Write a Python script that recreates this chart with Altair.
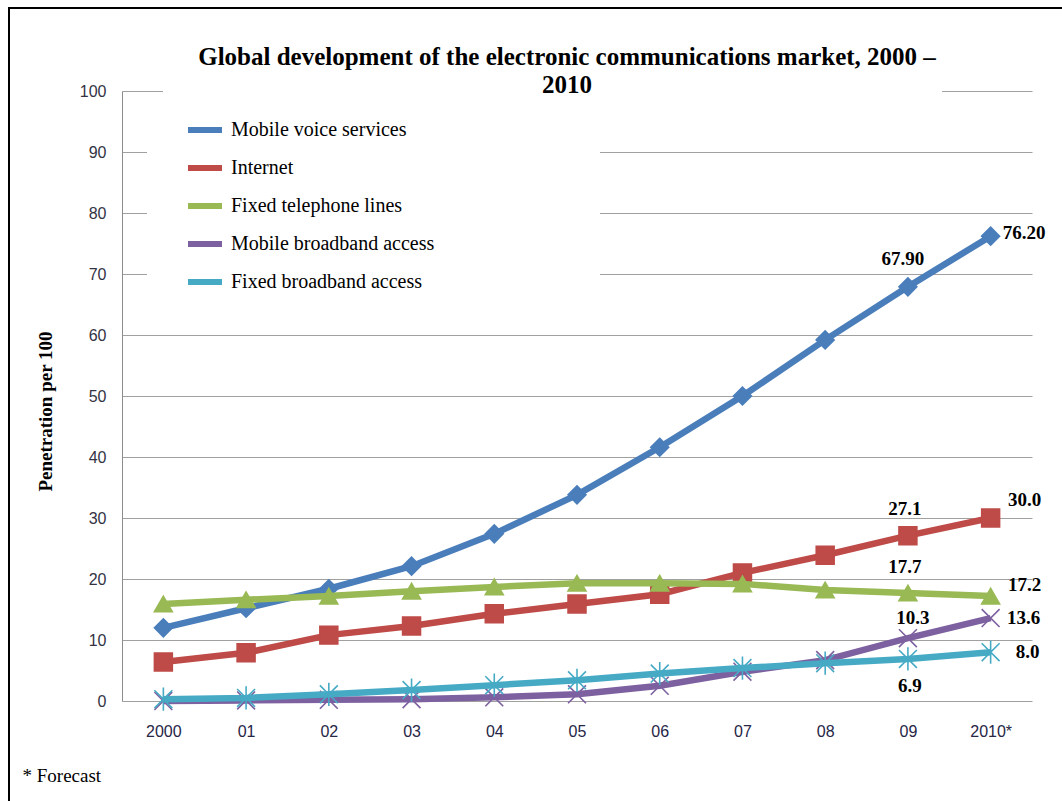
import altair as alt
import pandas as pd

# ---------------- data ----------------
years = ["2000", "01", "02", "03", "04", "05", "06", "07", "08", "09", "2010*"]
series_names = [
    "Mobile voice services",
    "Internet",
    "Fixed telephone lines",
    "Mobile broadband access",
    "Fixed broadband access",
]
mobile_voice = [12.0, 15.2, 18.4, 22.1, 27.4, 33.8, 41.6, 50.0, 59.2, 67.9, 76.2]
internet = [6.4, 7.9, 10.8, 12.3, 14.3, 15.9, 17.5, 21.0, 23.9, 27.1, 30.0]
fixed_tel = [15.9, 16.6, 17.2, 18.0, 18.7, 19.3, 19.3, 19.2, 18.2, 17.7, 17.2]
mobile_bb = [0.0, 0.1, 0.2, 0.3, 0.6, 1.1, 2.5, 4.8, 6.7, 10.3, 13.6]
fixed_bb = [0.3, 0.5, 1.1, 1.8, 2.6, 3.4, 4.5, 5.4, 6.2, 6.9, 8.0]
series_values = [mobile_voice, internet, fixed_tel, mobile_bb, fixed_bb]

label_series = [
    "Mobile voice services", "Mobile voice services",
    "Internet", "Internet",
    "Fixed telephone lines", "Fixed telephone lines",
    "Mobile broadband access", "Mobile broadband access",
    "Fixed broadband access", "Fixed broadband access",
]
label_years = ["2010*", "09", "2010*", "09", "09", "2010*", "09", "2010*", "2010*", "09"]
label_texts = ["76.20", "67.90", "30.0", "27.1", "17.7", "17.2", "10.3", "13.6", "8.0", "6.9"]

# ---------------- styles ----------------
colors = ["#4A7EBB", "#BE4B48", "#98B954", "#7D60A0", "#46AAC5"]
x_shape = "M-1,-1L1,1M-1,1L1,-1"
star_shape = "M-1,-1L1,1M-1,1L1,-1M0,-1.3L0,1.3"
shapes = ["diamond", "square", "triangle-up", x_shape, star_shape]
label_style = [  # dx, dy, align
    (12, -3, "left"), (-5, -28, "center"),
    (34, -18, "center"), (-3, -27, "center"),
    (-3, -26, "center"), (34, -11, "center"),
    (5, -20, "center"), (33, 0, "center"),
    (37, 0, "center"), (2, 27, "center"),
]

rows = []
for name, vals in zip(series_names, series_values):
    for yr, v in zip(years, vals):
        rows.append({"series": name, "year": yr, "value": v})
df = pd.DataFrame(rows)

x_enc = alt.X(
    "year:N", sort=years,
    scale=alt.Scale(type="point", padding=0.5),
    axis=alt.Axis(
        title="* Forecast", titleX=-100, titleY=80, titleAlign="left",
        titleBaseline="alphabetic", titleFont="Liberation Serif", titleFontSize=19,
        titleFontWeight="normal", titleColor="black",
        labelFont="Liberation Sans", labelFontSize=16, labelColor="#262646",
        labelPadding=22, labelAngle=0, domain=False, ticks=False, grid=False,
    ),
)
y_enc = alt.Y(
    "value:Q",
    scale=alt.Scale(domain=[0, 100], nice=False),
    axis=alt.Axis(
        values=list(range(0, 101, 10)),
        title="Penetration per 100", titleFont="Liberation Serif", titleFontSize=19,
        titleFontWeight="bold", titleColor="black", titleAngle=270,
        titleX=-77, titleY=320, titleAlign="center", titleBaseline="middle",
        labelFont="Liberation Sans", labelFontSize=16, labelColor="#333344",
        labelPadding=16, domainColor="#8c8c8c", gridColor="#a0a0a0",
        ticks=False, grid=True,
    ),
)

legend = alt.Legend(
    orient="none", legendX=63, legendY=19, title=None,
    symbolType="stroke", symbolStrokeWidth=6, symbolSize=1156,
    labelOffset=6, rowPadding=6, padding=0, symbolOpacity=1, labelLimit=500,
)
color_scale = alt.Scale(domain=series_names, range=colors)

one = pd.DataFrame({"k": [0]})
layers = []
# outer frame
layers.append(
    alt.Chart(one).mark_rect(fillOpacity=0, stroke="black", strokeWidth=2).encode(
        x=alt.value(-113), x2=alt.value(960), y=alt.value(-83), y2=alt.value(730)
    )
)
# white boxes behind title and legend (hide grid lines)
layers.append(
    alt.Chart(one).mark_rect(color="white").encode(
        x=alt.value(41), x2=alt.value(820), y=alt.value(-1), y2=alt.value(2)
    )
)
layers.append(
    alt.Chart(one).mark_rect(color="white").encode(
        x=alt.value(25), x2=alt.value(478), y=alt.value(6), y2=alt.value(209)
    )
)

for i, name in enumerate(series_names):
    sub = df[df.series == name]
    layers.append(
        alt.Chart(sub).mark_line(strokeWidth=6.5).encode(
            x=x_enc, y=y_enc,
            color=alt.Color("series:N", scale=color_scale, sort=series_names, legend=legend),
        )
    )
    layers.append(
        alt.Chart(sub).mark_point(
            filled=True, size=320, strokeWidth=1.6, opacity=1,
            shape=shapes[i], fill=colors[i], stroke=colors[i],
        ).encode(x=x_enc, y=y_enc)
    )

for s, yr, txt, (dx, dy, al) in zip(label_series, label_years, label_texts, label_style):
    val = series_values[series_names.index(s)][years.index(yr)]
    ldf = pd.DataFrame({"year": [yr], "value": [val], "txt": [txt]})
    layers.append(
        alt.Chart(ldf).mark_text(
            dx=dx, dy=dy, align=al, baseline="middle",
            font="Liberation Serif", fontSize=19, fontWeight="bold", color="black",
        ).encode(x=x_enc, y=y_enc, text="txt:N")
    )

chart = alt.layer(*layers).properties(
    width=910, height=610,
    title=alt.Title(
        text=["Global development of the electronic communications market, 2000 –", "2010"],
        font="Liberation Serif", fontSize=25, fontWeight="bold", color="black",
        anchor="middle", frame="group", dx=-10, baseline="alphabetic",
        offset=-111, lineHeight=28,
    ),
    padding={"left": 122, "top": 91, "right": 30, "bottom": 100},
    autosize=alt.AutoSizeParams(type="none"),
    background="white",
).configure_view(stroke=None).configure_legend(
    labelFont="Liberation Serif", labelFontSize=20, labelColor="black",
)

chart.save("out.html", embed_options={"renderer": "svg", "actions": False})
